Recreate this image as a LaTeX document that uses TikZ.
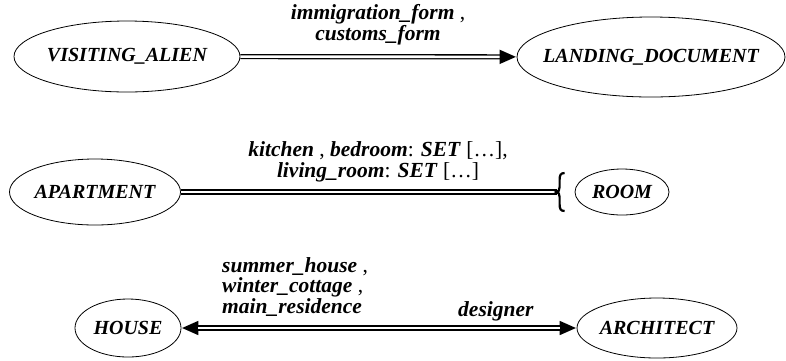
\documentclass[tikz,border=0pt]{standalone}
\usepackage{fontspec}
\setmainfont{Liberation Serif}
\usetikzlibrary{shapes.geometric,arrows.meta,calc}
\newcommand\bi[1]{\textbf{\textit{#1}}}
\begin{document}
\begin{tikzpicture}[x=1pt,y=-1pt,
  ent/.style={ellipse, draw, line width=0.8pt, inner sep=0pt,
    font=\fontsize{20}{20}\selectfont\bfseries\itshape},
  lab/.style={inner sep=0pt, font=\fontsize{21.5}{20.5}\selectfont},
  rel/.style={line width=5.2pt},
  relgap/.style={white, line width=2.6pt},
  tip/.style={-{Triangle[length=17pt,width=13pt]}},
  tips/.style={{Triangle[length=17pt,width=13pt]}-{Triangle[length=17pt,width=13pt]}},
]
\useasboundingbox (0,0) rectangle (786,360);

% entities
\node[ent, minimum width=226pt, minimum height=71pt] (va) at (127,56.5) {\makebox[0pt]{VISITING\_ALIEN}};
\node[ent, minimum width=268pt, minimum height=80pt] (ld) at (651,57) {\makebox[0pt]{LANDING\_DOCUMENT}};
\node[ent, minimum width=171pt, minimum height=66pt] (ap) at (95,192) {\makebox[0pt]{APARTMENT}};
\node[ent, minimum width=94pt, minimum height=46pt] (rm) at (622,192) {\makebox[0pt]{ROOM}};
\node[ent, minimum width=106pt, minimum height=58pt] (ho) at (128,328) {\makebox[0pt]{HOUSE}};
\node[ent, minimum width=160pt, minimum height=60pt] (ar) at (657,328) {\makebox[0pt]{ARCHITECT}};

% row 1
\draw[rel, tip] (va) -- (ld);
\draw[relgap, shorten >=17pt] (va) -- (ld);
\node[lab, align=center, anchor=base] (l1) at (378,40)
  {\bi{immigration\_form} ,\\ \bi{customs\_form}};

% row 2
\coordinate (br) at ($(rm.west)+(-18,0)$);
\draw[rel] (ap) -- (br);
\draw[relgap] (ap) -- (br);
\begin{scope}[shift={(br)}]
  \draw[line width=2.2pt] (8,-19) .. controls (4,-19) and (3,-17) .. (3,-12) -- (3,-5)
    .. controls (3,-2) and (2,0) .. (-0.5,0) .. controls (2,0) and (3,2) .. (3,5) -- (3,12)
    .. controls (3,17) and (4,19) .. (8,19);
\end{scope}
\node[lab, align=center, anchor=base] (l2) at (378,177)
  {\bi{kitchen} , \bi{bedroom}: \bi{SET} […],\\ \bi{living\_room}: \bi{SET} […]};

% row 3
\draw[rel, tips] (ho) -- (ar);
\draw[relgap, shorten >=17pt, shorten <=17pt] (ho) -- (ar);
\node[lab, align=left, anchor=base west] (l3) at (222,313)
  {\bi{summer\_house} ,\\ \bi{winter\_cottage} ,\\ \bi{main\_residence}};
\node[lab, anchor=base west] (l4) at (458,316) {\bi{designer}};
\end{tikzpicture}
\end{document}
